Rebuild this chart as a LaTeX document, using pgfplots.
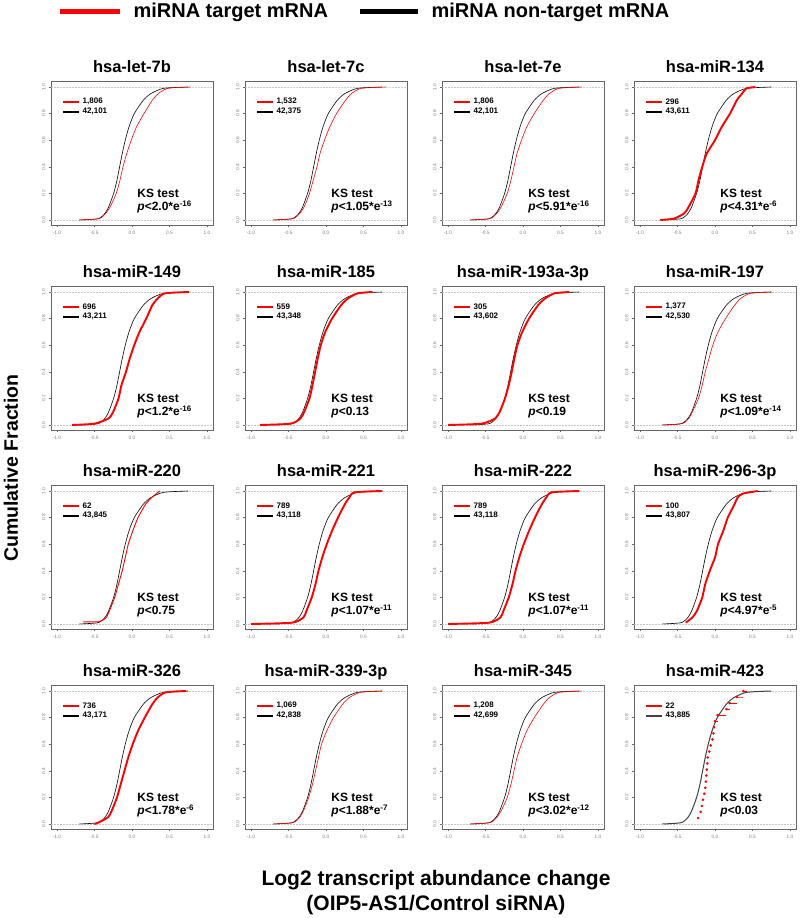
\documentclass[border=0pt]{standalone}
\usepackage{fontspec}
\setmainfont{Liberation Sans}
\newfontfamily\ticksfont[Color=808080]{Liberation Sans}
\usepackage{pgfplots}
\pgfplotsset{compat=1.18}
\usepackage{pgfplotstable}

% cumulative fraction (x = log2 change, y = fraction)
\pgfplotstableread{
x y
-0.70 0
-0.45 0.01
-0.36 0.05
-0.31 0.10
-0.245 0.20
-0.20 0.30
-0.165 0.40
-0.13 0.50
-0.09 0.60
-0.04 0.70
0.03 0.80
0.15 0.90
0.25 0.95
0.42 0.99
0.75 1.00
}\nontarget

\pgfplotstableread{
x y
-0.70 0
-0.44 0.01
-0.35 0.05
-0.29 0.10
-0.21 0.20
-0.16 0.30
-0.12 0.40
-0.07 0.50
-0.01 0.60
0.06 0.70
0.16 0.80
0.27 0.90
0.35 0.95
0.48 0.99
0.78 1.00
}\tA
\pgfplotstableread{
x y
-0.70 0
-0.44 0.01
-0.35 0.05
-0.29 0.10
-0.22 0.20
-0.17 0.30
-0.12 0.40
-0.08 0.50
-0.02 0.60
0.05 0.70
0.14 0.80
0.26 0.90
0.34 0.95
0.47 0.99
0.80 1.00
}\tB
\pgfplotstableread{
x y
-0.70 0
-0.44 0.01
-0.35 0.05
-0.29 0.10
-0.21 0.20
-0.16 0.30
-0.12 0.40
-0.08 0.50
-0.02 0.60
0.05 0.70
0.15 0.80
0.27 0.90
0.35 0.95
0.48 0.99
0.78 1.00
}\tC
\pgfplotstableread{
x y
-0.73 0
-0.55 0.01
-0.41 0.05
-0.35 0.10
-0.26 0.20
-0.22 0.30
-0.17 0.40
-0.11 0.50
0.00 0.60
0.09 0.70
0.20 0.80
0.29 0.90
0.36 0.95
0.42 0.99
0.54 1.00
}\tD
\pgfplotstableread{
x y
-0.80 0
-0.50 0.01
-0.31 0.05
-0.25 0.10
-0.18 0.20
-0.14 0.30
-0.08 0.40
-0.03 0.50
0.03 0.60
0.10 0.70
0.19 0.80
0.27 0.90
0.34 0.95
0.44 0.99
0.76 1.00
}\tE
\pgfplotstableread{
x y
-0.88 0
-0.47 0.01
-0.34 0.05
-0.29 0.10
-0.22 0.20
-0.18 0.30
-0.145 0.40
-0.11 0.50
-0.07 0.60
-0.01 0.70
0.08 0.80
0.20 0.90
0.29 0.95
0.42 0.99
0.62 1.00
}\tF
\pgfplotstableread{
x y
-1.00 0
-0.55 0.01
-0.37 0.05
-0.31 0.10
-0.24 0.20
-0.19 0.30
-0.15 0.40
-0.115 0.50
-0.075 0.60
-0.01 0.70
0.08 0.80
0.20 0.90
0.29 0.95
0.42 0.99
0.62 1.00
}\tG
\pgfplotstableread{
x y
-0.70 0
-0.44 0.01
-0.35 0.05
-0.30 0.10
-0.22 0.20
-0.17 0.30
-0.13 0.40
-0.08 0.50
-0.03 0.60
0.04 0.70
0.14 0.80
0.26 0.90
0.34 0.95
0.47 0.99
0.75 1.00
}\tH
\pgfplotstableread{
x y
-0.65 0.016
-0.45 0.016
-0.38 0.032
-0.34 0.05
-0.30 0.10
-0.23 0.20
-0.18 0.30
-0.13 0.40
-0.09 0.50
-0.05 0.60
0.01 0.70
0.08 0.80
0.18 0.90
0.26 0.95
0.37 1.00
}\tI
\pgfplotstableread{
x y
-1.00 0
-0.45 0.01
-0.30 0.05
-0.26 0.10
-0.19 0.20
-0.14 0.30
-0.10 0.40
-0.05 0.50
0.01 0.60
0.08 0.70
0.16 0.80
0.25 0.90
0.31 0.95
0.38 0.99
0.75 1.00
}\tJ
\pgfplotstableread{
x y
-0.39 0.01
-0.30 0.05
-0.24 0.10
-0.17 0.20
-0.13 0.30
-0.07 0.40
0.00 0.50
0.04 0.60
0.11 0.70
0.17 0.80
0.26 0.90
0.30 0.95
0.37 0.98
0.57 1.00
}\tL
\pgfplotstableread{
x y
-0.50 0
-0.45 0.01
-0.32 0.05
-0.27 0.10
-0.20 0.20
-0.15 0.30
-0.10 0.40
-0.05 0.50
0.01 0.60
0.08 0.70
0.17 0.80
0.27 0.90
0.34 0.95
0.45 0.99
0.72 1.00
}\tM
\pgfplotstableread{
x y
-0.70 0
-0.44 0.01
-0.35 0.05
-0.30 0.10
-0.23 0.20
-0.18 0.30
-0.14 0.40
-0.10 0.50
-0.06 0.60
0.01 0.70
0.10 0.80
0.22 0.90
0.31 0.95
0.46 0.99
0.75 1.00
}\tN
\pgfplotstableread{
x y
-0.70 0
-0.44 0.01
-0.35 0.05
-0.29 0.10
-0.21 0.20
-0.16 0.30
-0.12 0.40
-0.08 0.50
-0.02 0.60
0.05 0.70
0.15 0.80
0.27 0.90
0.35 0.95
0.48 0.99
0.78 1.00
}\tO
% hsa-miR-423: 22 targets, one point each
\pgfplotstableread{
x y
-0.226 0.045
-0.191 0.091
-0.174 0.136
-0.161 0.182
-0.143 0.227
-0.130 0.273
-0.122 0.318
-0.117 0.364
-0.109 0.409
-0.104 0.455
-0.096 0.500
-0.078 0.545
-0.057 0.591
-0.035 0.636
-0.022 0.682
-0.013 0.727
0.000 0.773
0.035 0.818
0.152 0.864
0.196 0.909
0.291 0.955
0.378 1.000
}\tP
% the steps of the same curve: each point to the next one
\pgfplotstableread{
x y
-0.013 0.727
0.000 0.727
nan nan
0.000 0.773
0.035 0.773
nan nan
0.035 0.818
0.152 0.818
nan nan
0.152 0.864
0.196 0.864
nan nan
0.196 0.909
0.291 0.909
nan nan
0.291 0.955
0.378 0.955
nan nan
0.378 1.000
0.420 1.000
}\tPsteps

\definecolor{rred}{RGB}{255,0,0}

\pgfplotsset{
  panel/.style={
    scale only axis, width=162pt, height=143.6pt, anchor=south west,
    xmin=-1.08, xmax=1.08, ymin=-0.04, ymax=1.04,
    xtick={-1,-0.5,0,0.5,1}, ytick={0,0.2,0.4,0.6,0.8,1},
    tick align=outside, tick pos=left, major tick length=2pt,
    axis line style={gray!80!black, line width=0.5pt},
    every tick/.style={gray!80!black, line width=0.4pt},
    /pgf/number format/assume math mode=true,
    tick label style={font=\ticksfont\fontsize{4.8}{5}\selectfont},
    xticklabel style={/pgf/number format/.cd, fixed, fixed zerofill, precision=1},
    yticklabel style={rotate=90, anchor=south, /pgf/number format/.cd, fixed, fixed zerofill, precision=1},
    every axis title/.style={at={(0.5,1)}, anchor=base, yshift=9pt,
      font=\bfseries\fontsize{16.5}{18}\selectfont},
    unbounded coords=jump,
  },
  guide/.style={draw=gray!45, dash pattern=on 1.5pt off 1.5pt, line width=0.4pt, smooth},
  thinred/.style={draw=rred, line width=0.6pt, smooth, tension=0.4},
  thickred/.style={draw=rred, line width=1.9pt, smooth, tension=0.4},
  dotred/.style={draw=rred, line width=0.9pt, smooth, tension=0.2},
  markred/.style={draw=rred, fill=rred, only marks, mark=*, mark size=1.1pt},
}

\newcommand{\pv}[2]{\textit{p}<#1*e\textsuperscript{-#2}}

% legend samples as filled bars, then the counts
\newcommand{\keys}[3]{%
  \fill[rred] (axis cs:-0.92,0.883) rectangle (axis cs:-0.71,0.897);
  \fill[#3] (axis cs:-0.92,0.808) rectangle (axis cs:-0.71,0.822);
  \node[anchor=west, font=\bfseries\fontsize{8}{9}\selectfont, inner sep=0pt] at (axis cs:-0.66,0.89) {#1};
  \node[anchor=west, font=\bfseries\fontsize{8}{9}\selectfont, inner sep=0pt] at (axis cs:-0.66,0.815) {#2};}

\newcommand{\kstest}[1]{%
  \node[anchor=base west, font=\bfseries\fontsize{12}{13}\selectfont, inner sep=0pt] at (axis cs:0.07,0.168) {KS test};
  \node[anchor=base west, font=\bfseries\fontsize{12}{13}\selectfont, inner sep=0pt] at (axis cs:0.07,0.068) {#1};}

% #1,#2 lower left of the box; #3 title; #4 table; #5 style; #6,#7 counts; #8 p value
\newcommand{\panel}[8]{%
\begin{axis}[panel, at={(#1pt,#2pt)}, title={#3}]
  \addplot[guide] coordinates {(-1.08,0) (0,0) (1.08,0)};
  \addplot[guide] coordinates {(-1.08,1) (0,1) (1.08,1)};
  \addplot[draw=black, line width=0.6pt, smooth, tension=0.4] table {\nontarget};
  \addplot[#5] table {#4};
  \keys{#6}{#7}{black}
  \kstest{#8}
\end{axis}}

\begin{document}
\begin{tikzpicture}[x=1pt,y=1pt]
\path[use as bounding box] (0,0) rectangle (800,918);

% legend on top
\fill[rred] (60,903.5) rectangle (120,908.5);
\node[anchor=west, font=\bfseries\fontsize{20}{22}\selectfont] at (130,906) {miRNA target mRNA};
\fill[black] (360,903.5) rectangle (418,908.5);
\node[anchor=west, font=\bfseries\fontsize{20}{22}\selectfont] at (428,906) {miRNA non-target mRNA};

\panel{51}{692.7}{hsa-let-7b}{\tA}{thinred}{1,806}{42,101}{\pv{2.0}{16}}
\panel{245}{692.7}{hsa-let-7c}{\tB}{thinred}{1,532}{42,375}{\pv{1.05}{13}}
\panel{442}{692.7}{hsa-let-7e}{\tC}{thinred}{1,806}{42,101}{\pv{5.91}{16}}
\panel{634}{692.7}{hsa-miR-134}{\tD}{thickred}{296}{43,611}{\pv{4.31}{6}}

\panel{51}{487.7}{hsa-miR-149}{\tE}{thickred}{696}{43,211}{\pv{1.2}{16}}
\panel{245}{487.7}{hsa-miR-185}{\tF}{thickred}{559}{43,348}{\textit{p}<0.13}
\panel{442}{487.7}{hsa-miR-193a-3p}{\tG}{thickred}{305}{43,602}{\textit{p}<0.19}
\panel{634}{487.7}{hsa-miR-197}{\tH}{thinred}{1,377}{42,530}{\pv{1.09}{14}}

\panel{51}{288.7}{hsa-miR-220}{\tI}{dotred}{62}{43,845}{\textit{p}<0.75}
\panel{245}{288.7}{hsa-miR-221}{\tJ}{thickred}{789}{43,118}{\pv{1.07}{11}}
\panel{442}{288.7}{hsa-miR-222}{\tJ}{thickred}{789}{43,118}{\pv{1.07}{11}}
\panel{634}{288.7}{hsa-miR-296-3p}{\tL}{thickred}{100}{43,807}{\pv{4.97}{5}}

\panel{51}{88.7}{hsa-miR-326}{\tM}{thickred}{736}{43,171}{\pv{1.78}{6}}
\panel{245}{88.7}{hsa-miR-339-3p}{\tN}{thinred}{1,069}{42,838}{\pv{1.88}{7}}
\panel{442}{88.7}{hsa-miR-345}{\tO}{thinred}{1,208}{42,699}{\pv{3.02}{12}}
\begin{axis}[panel, at={(634pt,88.7pt)}, title={hsa-miR-423}]
  \addplot[guide] coordinates {(-1.08,0) (0,0) (1.08,0)};
  \addplot[guide] coordinates {(-1.08,1) (0,1) (1.08,1)};
  \addplot[draw=black!75, line width=1pt, smooth, tension=0.4] table {\nontarget};
  \addplot[draw=rred, line width=0.5pt, smooth] table {\tPsteps};
  \addplot[markred] table {\tP};
  \keys{22}{43,885}{black!75}
  \kstest{\textit{p}<0.03}
\end{axis}

% outer axis titles
\node[rotate=90, font=\bfseries\fontsize{19.5}{21}\selectfont] at (11,450) {Cumulative Fraction};
\node[font=\bfseries\fontsize{21}{23}\selectfont] at (436,38) {Log2 transcript abundance change};
\node[font=\bfseries\fontsize{21}{23}\selectfont] at (436,13) {(OIP5-AS1/Control siRNA)};
\end{tikzpicture}
\end{document}
